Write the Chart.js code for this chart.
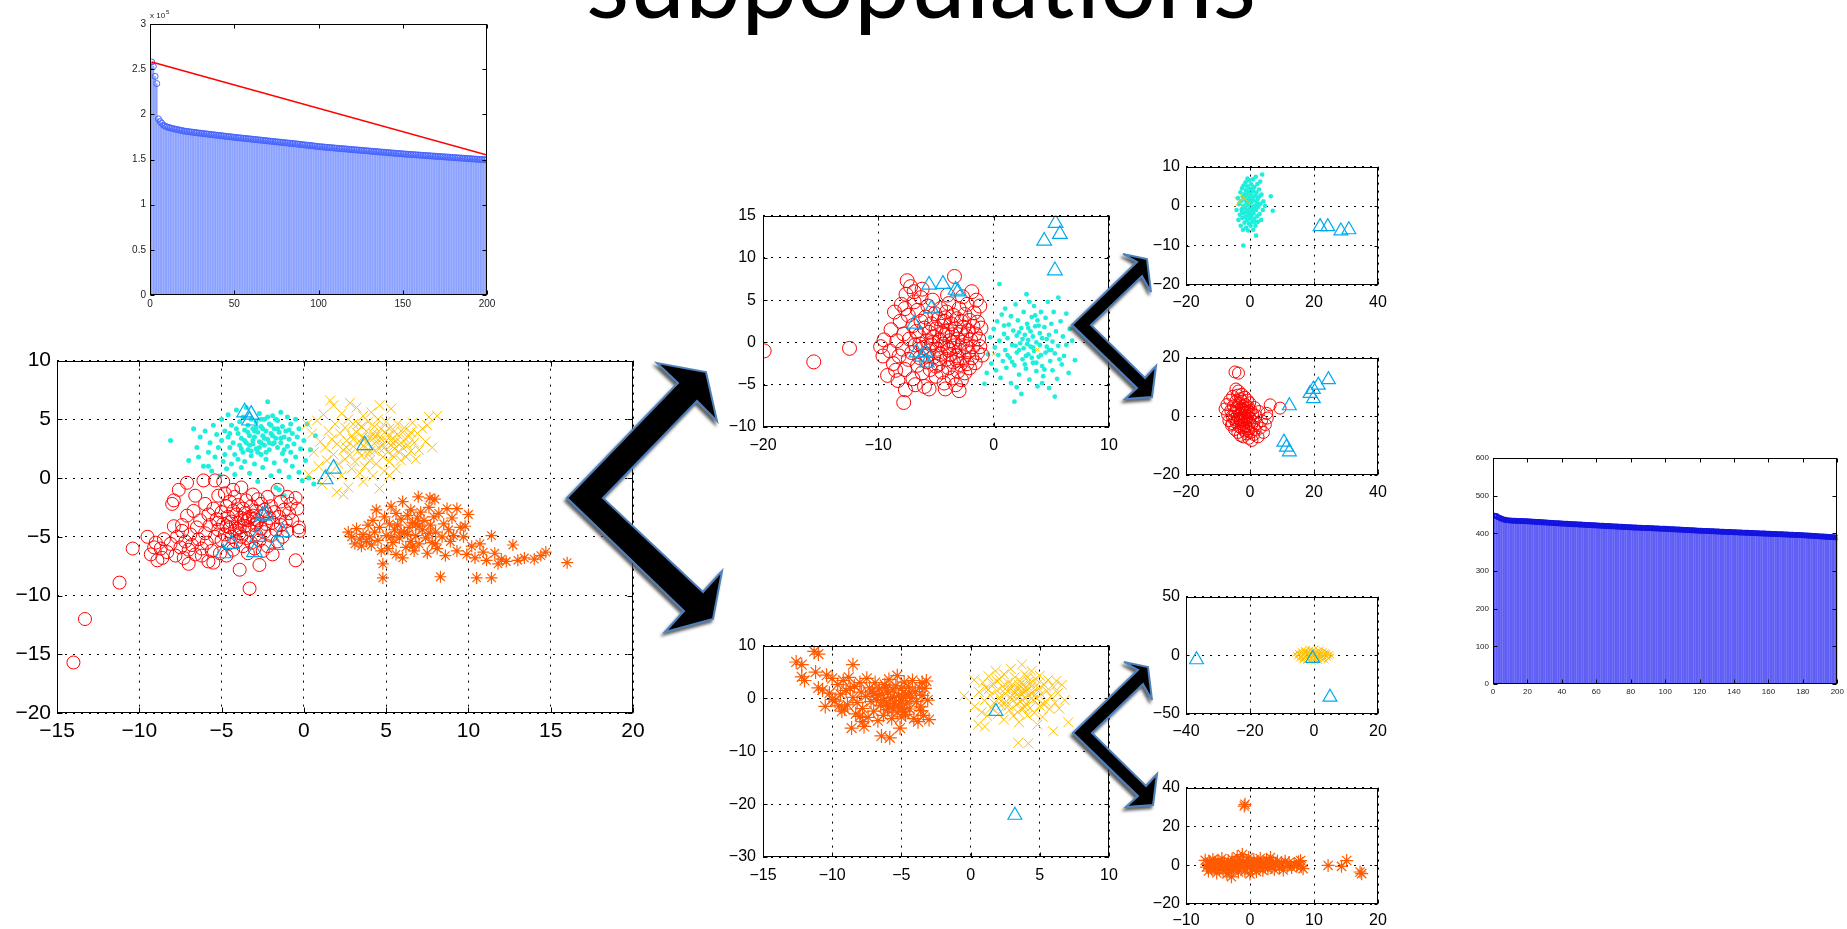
<!DOCTYPE html>
<html>
<head>
<meta charset="utf-8">
<script src="https://cdn.jsdelivr.net/npm/chart.js@4.4.1/dist/chart.umd.min.js"></script>
<style>
  body { margin: 0; width: 1847px; height: 929px; background: #fff; overflow: hidden; position: relative; }
  canvas { position: absolute; }
  #title { position: absolute; left: 0; top: 0; font-family: Lato, "Open Sans", sans-serif; font-size: 98px; line-height: 1; white-space: nowrap; color: #000; z-index: 5; }
  #title i { display: inline-block; width: 0; height: 0; }
  #arrows { position: absolute; left: 0; top: 0; z-index: 10; }
</style>
</head>
<body>
<div id="title"><span id="titleText">subpopulations</span><i id="baseMark"></i></div>

<svg id="arrows" width="1847" height="929" viewBox="0 0 1847 929">
  <defs>
    <filter id="shade" x="-20%" y="-20%" width="140%" height="140%">
      <feDropShadow dx="-2" dy="3" stdDeviation="1.4" flood-color="#444" flood-opacity="0.85"/>
    </filter>
  </defs>
  <g fill="#000" stroke="#4f81bd" stroke-width="2" stroke-linejoin="miter" filter="url(#shade)">
    <polygon points="567,498 678,383 657,363 706,372 717,421 697,401 603,498 703,592 722,571 713,619 665,632 684,611"/>
    <polygon points="1072,325 1137,262 1123,254 1147,259 1151,292 1142,276 1091,325 1145,378 1156,366 1152,397 1125,399 1137,388"/>
    <polygon transform="translate(1,408)" points="1072,325 1137,262 1123,254 1147,259 1151,292 1142,276 1091,325 1145,378 1156,366 1152,397 1125,399 1137,388"/>
  </g>
</svg>

<script>
// ---------- colours ----------
const CYAN = '#1eeedc';
const YELLOW = '#ffbf00';
const RED = '#ff0000';
const ORANGE = '#ff5a00';
const TRI = '#00aaee';

// ---------- top-left stem plot (values in units of 10^5) ----------
const tlStem = [
  2.58,2.53,2.42,2.34,1.95,1.92,1.90,1.88,1.87,1.86,
  1.855,1.850,1.845,1.840,1.836,1.832,1.828,1.824,1.820,1.816,
  1.813,1.810,1.808,1.805,1.803,1.800,1.798,1.796,1.793,1.791,
  1.789,1.786,1.784,1.782,1.780,1.777,1.775,1.773,1.770,1.768,
  1.766,1.764,1.762,1.759,1.757,1.755,1.753,1.751,1.748,1.746,
  1.744,1.742,1.740,1.738,1.736,1.734,1.732,1.730,1.728,1.726,
  1.724,1.722,1.720,1.718,1.716,1.714,1.712,1.710,1.708,1.706,
  1.704,1.702,1.700,1.698,1.696,1.694,1.692,1.690,1.688,1.686,
  1.684,1.682,1.680,1.678,1.676,1.674,1.672,1.670,1.668,1.665,
  1.663,1.661,1.659,1.657,1.655,1.653,1.650,1.648,1.646,1.643,
  1.641,1.640,1.638,1.636,1.635,1.633,1.631,1.630,1.628,1.626,
  1.625,1.623,1.621,1.620,1.618,1.617,1.615,1.613,1.612,1.610,
  1.608,1.607,1.605,1.604,1.602,1.600,1.599,1.597,1.596,1.594,
  1.592,1.591,1.589,1.588,1.586,1.584,1.583,1.581,1.580,1.578,
  1.576,1.575,1.573,1.572,1.570,1.568,1.567,1.565,1.564,1.562,
  1.561,1.559,1.558,1.557,1.555,1.554,1.553,1.551,1.550,1.549,
  1.547,1.546,1.545,1.543,1.542,1.541,1.539,1.538,1.537,1.535,
  1.534,1.533,1.531,1.530,1.529,1.527,1.526,1.525,1.523,1.522,
  1.521,1.519,1.518,1.517,1.515,1.514,1.513,1.511,1.510,1.509,
  1.507,1.506,1.505,1.503,1.502,1.501,1.499,1.498,1.497,1.495
];
const tlRedLine = [[1, 2.58], [200, 1.55]];

// ---------- right stem plot ----------
const rsStem = [
  447,446,443,441,439,437,436,435,434.5,434,
  433.8,433.6,433.4,433.2,433,432.8,432.6,432.4,432.2,432,
  431.7,431.4,431.1,430.8,430.5,430.2,429.9,429.6,429.3,429,
  428.7,428.4,428.1,427.8,427.5,427.2,426.9,426.6,426.3,426,
  425.8,425.5,425.3,425,424.8,424.5,424.3,424,423.8,423.5,
  423.3,423,422.8,422.5,422.3,422,421.8,421.5,421.3,421,
  420.8,420.5,420.3,420,419.8,419.5,419.3,419,418.8,418.5,
  418.3,418,417.8,417.5,417.3,417,416.8,416.5,416.3,416,
  415.8,415.6,415.4,415.2,415,414.8,414.6,414.4,414.2,414,
  413.8,413.6,413.4,413.2,413,412.8,412.6,412.4,412.2,412,
  411.8,411.5,411.3,411,410.8,410.5,410.3,410,409.8,409.5,
  409.3,409,408.8,408.5,408.3,408,407.8,407.5,407.3,407,
  406.8,406.6,406.4,406.2,406,405.8,405.6,405.4,405.2,405,
  404.8,404.6,404.4,404.2,404,403.8,403.6,403.4,403.2,403,
  402.8,402.6,402.4,402.2,402,401.8,401.6,401.4,401.2,401,
  400.8,400.6,400.4,400.2,400,399.8,399.6,399.4,399.2,399,
  398.8,398.6,398.4,398.2,398,397.8,397.6,397.4,397.2,397,
  396.8,396.6,396.4,396.2,396,395.8,395.6,395.4,395.2,395,
  394.7,394.4,394.1,393.8,393.5,393.2,392.9,392.6,392.3,392,
  391.7,391.4,391.1,390.8,390.5,390.2,389.9,389.6,389.3,389
];

// ---------- main scatter ----------
const mainCyan = [[-8.1,3.2],[-7.0,1.5],[-6.7,4.2],[-6.5,2.6],[-6.3,3.5],[-6.1,1.0],[-6.0,4.0],[-5.8,2.2],[-5.7,3.0],[-5.6,0.6],[-5.5,4.5],[-5.4,1.8],[-5.3,3.7],[-5.2,2.6],[-5.1,0.2],[-5.0,5.0],[-5.0,3.2],[-4.9,1.4],[-4.8,4.0],[-4.8,2.0],[-4.7,0.8],[-4.6,3.5],[-4.6,5.4],[-4.5,2.6],[-4.4,1.2],[-4.4,4.5],[-4.3,3.0],[-4.2,0.3],[-4.2,2.0],[-4.1,5.8],[-4.0,3.8],[-4.0,1.6],[-3.9,2.8],[-3.9,4.8],[-3.8,0.9],[-3.8,3.4],[-3.7,2.2],[-3.7,5.2],[-3.6,4.1],[-3.6,1.4],[-3.5,3.0],[-3.5,6.0],[-3.4,2.4],[-3.4,4.5],[-3.3,0.4],[-3.3,3.6],[-3.2,1.9],[-3.2,5.0],[-3.1,2.9],[-3.1,4.2],[-3.0,3.5],[-3.0,1.2],[-2.9,2.5],[-2.9,4.8],[-2.8,3.9],[-2.8,-0.3],[-2.7,3.1],[-2.7,5.5],[-2.6,2.0],[-2.6,4.4],[-2.5,3.6],[-2.5,0.9],[-2.4,2.8],[-2.4,5.0],[-2.3,4.0],[-2.3,1.6],[-2.2,3.3],[-2.2,6.5],[-2.1,2.4],[-2.1,4.6],[-2.0,3.8],[-2.0,0.2],[-1.9,2.9],[-1.9,5.3],[-1.8,4.2],[-1.8,1.3],[-1.7,3.4],[-1.7,-0.8],[-1.6,2.6],[-1.6,4.9],[-1.5,3.9],[-1.5,0.6],[-1.4,3.0],[-1.4,5.6],[-1.3,2.1],[-1.3,4.4],[-1.2,3.5],[-1.2,-1.5],[-1.1,1.5],[-1.1,4.0],[-1.0,2.7],[-1.0,5.2],[-0.9,3.3],[-0.9,0.1],[-0.8,4.6],[-0.8,2.2],[-0.7,3.8],[-0.7,1.0],[-0.6,2.9],[-0.5,5.0],[-0.5,1.8],[-0.4,3.5],[-0.3,0.5],[-0.3,4.2],[-0.2,2.5],[-0.1,-0.2],[0.0,3.2],[0.1,1.5],[0.2,4.6],[0.3,0.0],[0.4,2.4],[0.6,-0.5],[0.7,3.6],[-2.6,3.0],[-3.0,4.0],[-2.0,4.5],[-2.4,3.4],[-1.8,3.0],[-3.3,2.8],[-2.8,2.2],[-2.2,5.2],[-1.6,4.2],[-3.6,3.2],[-4.5,3.8],[-5.8,1.0],[-6.4,1.8],[-1.5,-1.0],[-2.5,4.2],[-3.1,3.2],[-1.9,3.6],[-2.7,2.6],[-3.4,3.9],[-2.1,3.0],[-1.4,3.4],[-2.9,4.3],[-3.8,2.5],[-1.2,2.4],[-2.3,2.2],[-4.1,4.2],[-0.9,4.1],[-2.6,5.0],[-1.7,5.0],[-3.2,2.3]];

const mainYellow = [[0.2,4.6],[0.3,0.3],[0.5,3.8],[0.6,2.2],[0.8,4.9],[0.9,1.0],[1.0,3.1],[1.1,-0.5],[1.2,5.4],[1.3,2.6],[1.4,1.5],[1.5,4.0],[1.6,0.4],[1.7,3.3],[1.8,6.2],[1.8,2.0],[1.9,4.6],[2.0,-1.2],[2.0,2.9],[2.1,1.2],[2.2,3.8],[2.3,5.5],[2.3,0.2],[2.4,2.4],[2.5,4.3],[2.5,1.6],[2.6,3.2],[2.7,-0.8],[2.7,5.0],[2.8,2.0],[2.9,3.6],[2.9,0.8],[3.0,4.6],[3.0,2.7],[3.1,1.4],[3.2,3.9],[3.2,6.0],[3.3,2.3],[3.4,3.1],[3.4,0.4],[3.5,4.4],[3.5,1.9],[3.6,3.5],[3.6,5.3],[3.7,2.6],[3.7,1.0],[3.8,4.0],[3.8,3.0],[3.9,2.0],[3.9,4.8],[4.0,3.4],[4.0,1.5],[4.1,2.7],[4.1,5.6],[4.2,3.8],[4.2,0.2],[4.3,2.3],[4.3,4.4],[4.4,3.1],[4.4,1.2],[4.5,3.7],[4.5,5.0],[4.6,2.5],[4.6,-0.9],[4.7,3.3],[4.7,4.2],[4.8,1.8],[4.8,2.9],[4.9,3.9],[4.9,0.6],[5.0,3.2],[5.0,4.8],[5.1,2.2],[5.1,3.6],[5.2,1.4],[5.2,4.2],[5.3,2.8],[5.3,5.9],[5.4,3.4],[5.4,1.9],[5.5,4.0],[5.5,2.5],[5.6,3.1],[5.6,0.8],[5.7,3.7],[5.7,4.6],[5.8,2.2],[5.9,3.0],[5.9,1.5],[6.0,3.9],[6.0,2.6],[6.1,4.3],[6.2,3.3],[6.2,1.8],[6.3,2.8],[6.4,3.6],[6.5,2.3],[6.6,4.7],[6.7,3.0],[6.8,1.6],[6.9,3.8],[7.0,2.4],[7.2,4.2],[7.4,3.1],[7.6,5.2],[7.8,2.6],[8.1,5.3],[7.5,4.5],[3.6,-0.3],[5.2,0.2],[2.4,-1.4],[1.6,6.6],[2.8,6.4],[4.6,6.2],[3.0,3.3],[3.3,4.6],[4.3,3.5],[4.9,2.6],[3.7,3.3],[5.4,3.0],[4.0,2.3],[2.6,2.6],[6.5,3.9]];

const mainRed = [[-14.0,-15.7],[-13.3,-12.0],[-11.2,-8.9],[-10.4,-6.0],[-9.5,-5.0],[-9.3,-6.5],[-9.0,-5.5],[-8.9,-7.0],[-8.7,-6.0],[-8.5,-5.2],[-8.3,-6.3],[-8.1,-5.6],[-8.0,-2.2],[-7.9,-1.9],[-7.9,-4.1],[-7.8,-6.6],[-7.7,-5.0],[-7.6,-1.0],[-7.5,-5.9],[-7.4,-4.5],[-7.3,-6.8],[-7.2,-5.4],[-7.1,-3.2],[-7.1,-0.4],[-7.0,-6.1],[-7.0,-7.3],[-6.9,-4.8],[-6.8,-5.7],[-6.7,-2.8],[-6.6,-6.5],[-6.5,-4.2],[-6.4,-5.2],[-6.3,-3.6],[-6.2,-6.0],[-6.1,-0.2],[-6.0,-4.7],[-6.0,-2.2],[-5.9,-5.5],[-5.8,-3.1],[-5.8,-7.1],[-5.7,-4.0],[-5.6,-6.2],[-5.5,-2.6],[-5.4,-0.2],[-5.4,-5.0],[-5.3,-3.5],[-5.2,-4.4],[-5.2,-1.5],[-5.1,-6.4],[-5.0,-2.9],[-5.0,-5.3],[-4.9,-3.9],[-4.8,-1.3],[-4.8,-4.8],[-4.7,-2.4],[-4.7,-6.6],[-4.6,-3.3],[-4.6,-5.6],[-4.5,-4.2],[-4.5,-2.0],[-4.4,-3.7],[-4.4,-5.0],[-4.3,-2.8],[-4.3,-6.1],[-4.2,-4.5],[-4.2,-1.6],[-4.1,-3.1],[-4.1,-5.4],[-4.0,-3.8],[-4.0,-2.3],[-3.9,-7.8],[-3.9,-4.7],[-3.8,-3.4],[-3.8,-0.8],[-3.7,-5.8],[-3.7,-2.6],[-3.6,-4.1],[-3.6,-3.0],[-3.5,-5.1],[-3.5,-1.9],[-3.4,-3.6],[-3.4,-6.4],[-3.3,-9.4],[-3.3,-4.4],[-3.2,-2.4],[-3.2,-5.5],[-3.1,-3.2],[-3.1,-1.4],[-3.0,-4.0],[-3.0,-6.0],[-2.9,-2.8],[-2.9,-4.8],[-2.8,-3.6],[-2.8,-1.8],[-2.7,-5.3],[-2.7,-7.4],[-2.6,-4.3],[-2.6,-2.2],[-2.5,-3.2],[-2.5,-6.2],[-2.4,-4.6],[-2.4,-2.7],[-2.3,-3.9],[-2.2,-5.8],[-2.2,-1.6],[-2.1,-3.4],[-2.0,-4.9],[-2.0,-2.4],[-1.9,-6.5],[-1.9,-3.8],[-1.8,-2.9],[-1.7,-4.4],[-1.6,-1.0],[-1.6,-5.4],[-1.5,-3.3],[-1.4,-2.0],[-1.4,-4.0],[-1.3,-5.0],[-1.2,-2.7],[-1.1,-3.7],[-1.0,-1.6],[-1.0,-4.5],[-0.9,-3.0],[-0.8,-2.2],[-0.7,-3.6],[-0.5,-7.0],[-0.5,-1.7],[-0.3,-4.2],[-0.3,-4.5],[-0.4,-2.6],[-6.6,-1.5],[-7.4,-4.0],[-5.5,-7.2],[-6.2,-6.6],[-8.6,-6.8],[-9.1,-5.9],[-4.9,-0.3],[-4.3,-1.0],[-3.9,-4.2],[-3.3,-3.3],[-4.7,-4.1],[-3.6,-3.5],[-2.9,-3.9],[-4.1,-4.3],[-5.2,-3.8],[-3.0,-3.5],[-3.8,-5.0],[-2.3,-3.0]];

const mainOrange = [[2.7,-4.6],[2.9,-5.0],[3.1,-5.6],[3.2,-4.3],[3.4,-5.2],[3.5,-5.8],[3.6,-4.8],[3.8,-5.4],[3.9,-4.0],[4.0,-5.0],[4.1,-5.7],[4.2,-3.6],[4.3,-4.6],[4.4,-2.7],[4.5,-5.3],[4.6,-4.2],[4.7,-6.2],[4.8,-7.3],[4.8,-8.5],[4.9,-3.3],[5.0,-4.9],[5.1,-6.0],[5.2,-3.9],[5.3,-2.4],[5.4,-5.5],[5.5,-4.4],[5.6,-3.0],[5.6,-6.5],[5.7,-4.0],[5.8,-5.1],[5.9,-3.5],[6.0,-2.0],[6.0,-6.8],[6.1,-4.6],[6.2,-5.9],[6.3,-3.2],[6.4,-4.2],[6.5,-5.4],[6.5,-2.7],[6.6,-3.8],[6.7,-6.2],[6.8,-4.9],[6.9,-3.4],[6.95,-1.6],[7.0,-5.6],[7.1,-2.9],[7.2,-4.4],[7.3,-3.6],[7.4,-5.1],[7.5,-6.4],[7.6,-2.5],[7.66,-1.7],[7.7,-4.0],[7.8,-5.5],[7.9,-3.3],[7.96,-1.8],[8.0,-4.6],[8.1,-6.0],[8.2,-3.0],[8.3,-8.4],[8.4,-5.0],[8.5,-3.9],[8.6,-6.6],[8.7,-2.6],[8.8,-4.4],[8.9,-5.4],[9.0,-3.4],[9.1,-4.9],[9.3,-2.6],[9.3,-6.2],[9.5,-4.2],[9.7,-5.0],[9.8,-4.1],[9.9,-6.5],[10.0,-3.1],[10.2,-5.8],[10.4,-6.8],[10.5,-8.5],[10.7,-5.6],[10.9,-6.3],[11.1,-7.0],[11.4,-4.9],[11.4,-8.5],[11.6,-6.4],[11.8,-7.3],[12.0,-6.9],[12.3,-7.1],[12.7,-5.7],[13.0,-7.0],[13.4,-6.8],[14.0,-6.9],[14.4,-6.6],[14.7,-6.3],[16.0,-7.2],[6.3,-4.8],[7.0,-4.1],[5.9,-4.6],[6.8,-3.9],[7.6,-4.7],[5.3,-5.0],[8.0,-5.6],[6.6,-5.8]];

const mainTri = [[-3.6,5.6],[-3.2,5.4],[-3.3,4.9],[1.3,-0.1],[1.8,0.8],[3.7,2.8],[-2.3,-3.1],[-2.5,-3.2],[-2.8,-5.0],[-3.0,-6.3],[-1.7,-5.7],[-1.3,-4.6],[-4.9,-6.4],[-4.4,-5.6]];

// ---------- middle top scatter ----------
const mtRed = [[-19.9,-1.0],[-15.6,-2.3],[-12.5,-0.7],[-9.8,-0.5],[-9.6,-1.6],[-9.5,0.3],[-9.2,-3.9],[-9.0,-1.0],[-8.9,1.5],[-8.7,-2.5],[-8.6,3.6],[-8.4,0.2],[-8.3,-4.5],[-8.2,-1.6],[-8.1,2.5],[-8.0,4.5],[-7.9,-0.8],[-7.8,-7.1],[-7.8,1.0],[-7.7,-3.2],[-7.65,-5.6],[-7.6,5.7],[-7.5,7.3],[-7.4,-2.0],[-7.4,3.2],[-7.3,0.4],[-7.2,6.6],[-7.1,-1.2],[-7.0,-4.3],[-7.0,2.0],[-6.9,4.8],[-6.8,-0.3],[-6.7,1.3],[-6.6,-2.7],[-6.6,3.8],[-6.5,0.8],[-6.4,-1.8],[-6.3,5.3],[-6.3,2.5],[-6.2,-3.6],[-6.1,-0.6],[-6.0,1.7],[-6.0,-5.2],[-5.9,3.0],[-5.8,-2.3],[-5.8,0.2],[-5.7,4.3],[-5.6,-1.0],[-5.6,1.2],[-5.5,-3.2],[-5.4,2.2],[-5.4,-0.3],[-5.3,5.0],[-5.2,-1.7],[-5.2,0.7],[-5.1,3.4],[-5.0,-4.0],[-5.0,1.6],[-4.9,-0.8],[-4.8,2.8],[-4.8,-2.6],[-4.7,0.3],[-4.6,4.0],[-4.6,-1.4],[-4.5,1.9],[-4.5,-3.5],[-4.4,-0.2],[-4.3,2.5],[-4.3,-4.8],[-4.2,0.9],[-4.1,-2.0],[-4.1,3.6],[-4.0,-0.6],[-4.0,1.4],[-3.9,-3.0],[-3.9,4.6],[-3.8,0.2],[-3.8,-1.4],[-3.7,2.2],[-3.6,-4.2],[-3.6,0.9],[-3.5,-2.3],[-3.5,3.2],[-3.4,7.8],[-3.4,-0.4],[-3.3,1.6],[-3.3,-5.0],[-3.2,-1.6],[-3.2,2.8],[-3.1,0.4],[-3.1,-3.4],[-3.0,4.0],[-3.0,-0.9],[-2.9,1.2],[-2.9,-2.6],[-2.8,2.5],[-2.8,-4.4],[-2.7,0.0],[-2.7,5.4],[-2.6,-1.8],[-2.6,1.8],[-2.5,-3.6],[-2.5,3.3],[-2.4,-0.5],[-2.4,0.8],[-2.3,-2.5],[-2.3,4.5],[-2.2,1.4],[-2.2,-1.1],[-2.1,2.6],[-2.1,-3.0],[-2.0,0.3],[-1.9,-1.8],[-1.9,6.0],[-1.8,1.9],[-1.8,-0.5],[-1.7,3.5],[-1.6,-2.4],[-1.6,1.0],[-1.5,5.0],[-1.4,-1.2],[-1.4,2.4],[-1.3,0.4],[-1.2,-0.5],[-1.2,4.3],[-1.1,1.7],[-1.0,-1.5],[-5.6,-5.5],[-6.8,-5.0],[-4.2,-5.5],[-3.0,-5.7],[-6.9,6.0],[-7.7,4.0],[-8.5,-3.3],[-6.2,6.3],[-4.0,5.6],[-5.0,-2.8],[-4.4,1.1],[-3.9,-0.9],[-5.3,0.0],[-4.7,-1.9],[-3.5,0.0],[-4.2,2.9],[-5.8,-1.6],[-6.4,-0.2],[-3.2,-2.1]];

const mtCyan = [[0.5,6.9],[-0.8,-4.9],[-0.6,-3.6],[-0.5,-1.4],[-0.3,0.6],[-0.2,-2.5],[0.0,1.6],[0.1,-0.6],[0.2,-3.3],[0.3,2.5],[0.4,-1.5],[0.5,0.2],[0.6,-4.2],[0.7,3.3],[0.8,-2.2],[0.9,1.0],[1.0,-0.9],[1.0,4.0],[1.1,-3.0],[1.2,0.5],[1.3,2.1],[1.4,-1.8],[1.5,-4.8],[1.5,3.1],[1.6,-0.3],[1.7,1.4],[1.8,-2.7],[1.8,-7.0],[1.9,4.5],[2.0,0.8],[2.0,-1.2],[2.1,2.6],[2.2,-3.8],[2.3,-0.1],[2.4,-6.1],[2.4,1.7],[2.5,-2.0],[2.6,3.6],[2.6,-0.7],[2.7,0.9],[2.8,-3.1],[2.85,5.7],[2.9,2.2],[3.0,-1.4],[3.0,0.3],[3.1,-4.4],[3.2,1.3],[3.2,-0.5],[3.3,3.0],[3.4,-2.4],[3.4,0.7],[3.5,-1.0],[3.5,4.3],[3.6,1.9],[3.7,-3.4],[3.7,0.0],[3.8,-5.2],[3.8,2.6],[3.9,-1.7],[4.0,1.1],[4.0,-0.3],[4.1,3.6],[4.2,-2.8],[4.2,0.5],[4.3,-4.0],[4.4,1.8],[4.5,-1.2],[4.5,2.9],[4.6,-0.5],[4.7,4.8],[4.8,-5.4],[4.8,0.9],[4.9,-2.2],[5.0,2.2],[5.1,-3.3],[5.1,0.1],[5.2,3.6],[5.3,-6.4],[5.3,-1.3],[5.4,1.3],[5.5,-4.3],[5.6,5.3],[5.6,-0.4],[5.8,2.5],[5.9,-2.6],[6.0,0.7],[6.1,-1.6],[6.3,-0.3],[6.3,3.4],[6.5,-3.6],[6.6,1.6],[7.05,-2.1],[2.9,-0.2],[3.3,-1.8],[2.2,1.2],[3.9,2.0],[1.6,-2.3],[4.4,-3.2],[2.7,-2.6],[3.6,3.2],[1.2,-1.5],[4.8,-0.9],[2.0,-5.3],[5.7,-2.0],[0.9,2.0],[4.2,-4.8],[3.1,4.8],[6.8,0.2],[3.4,-0.6],[2.5,0.4],[4.1,-1.5],[3.0,1.7],[2.2,-0.9],[4.6,0.4],[3.7,-2.4],[1.9,-0.4],[5.0,-0.9],[2.8,-1.6]];

const mtYellow = [[0.05,-1.35],[3.8,-0.85]];

const mtTri = [[5.37,14.1],[5.74,12.8],[4.38,12.0],[5.31,8.5],[-5.6,6.8],[-4.4,6.9],[-3.3,6.2],[-3.1,6.0],[-5.4,4.0],[-6.9,2.2],[-6.7,-1.2],[-5.9,-1.2],[-6.2,-1.7],[-5.8,-2.4]];

// ---------- middle bottom scatter ----------
const mbOrange = [[-11.3,8.9],[-11.0,8.4],[-12.6,6.9],[-12.2,6.4],[-12.2,4.1],[-12.0,3.4],[-11.2,5.0],[-11.0,2.0],[-10.7,1.6],[-10.4,4.4],[-10.5,-1.5],[-10.2,1.0],[-10.0,3.8],[-9.8,-0.5],[-9.6,2.6],[-9.4,0.8],[-9.3,-2.4],[-9.2,3.4],[-9.0,1.5],[-8.9,-1.2],[-8.8,4.0],[-8.6,-5.6],[-8.5,6.4],[-8.5,0.2],[-8.4,2.3],[-8.3,-2.9],[-8.2,-0.8],[-8.0,3.0],[-7.9,1.2],[-7.8,-1.9],[-7.7,-5.3],[-7.6,0.4],[-7.5,3.8],[-7.4,-3.6],[-7.3,2.0],[-7.2,-0.6],[-7.1,1.4],[-7.0,-2.4],[-6.9,3.0],[-6.8,-0.2],[-6.7,-4.2],[-6.6,1.8],[-6.5,-1.3],[-6.44,-7.1],[-6.4,0.7],[-6.3,-3.2],[-6.2,2.6],[-6.1,-0.9],[-6.0,1.2],[-6.0,-2.1],[-5.9,3.6],[-5.8,0.1],[-5.84,-7.45],[-5.7,-3.8],[-5.6,1.6],[-5.5,-1.0],[-5.4,2.4],[-5.3,-2.6],[-5.3,4.3],[-5.2,0.5],[-5.1,-5.6],[-5.0,-0.4],[-5.0,1.9],[-4.9,-1.8],[-4.8,3.1],[-4.7,-3.0],[-4.7,0.8],[-4.6,-0.9],[-4.5,2.2],[-4.4,-2.0],[-4.3,0.0],[-4.2,3.4],[-4.1,-3.8],[-4.0,1.3],[-3.9,-0.6],[-3.8,-4.4],[-3.7,2.0],[-3.6,-1.6],[-3.5,0.6],[-3.4,-3.2],[-3.3,1.9],[-3.2,3.3],[-3.1,-0.3],[-3.0,-4.0],[-6.3,-0.4],[-5.5,0.2],[-4.9,0.3],[-5.9,-1.5],[-5.2,-1.2],[-6.7,0.6],[-4.4,1.0],[-5.6,-2.0],[-6.1,2.1],[-4.8,-2.5],[-7.0,0.9],[-5.0,-3.5],[-3.6,-2.3],[-8.0,-3.4],[-9.1,-2.0],[-7.8,-4.4],[-10.0,-0.2],[-9.5,-1.4],[-8.7,1.9],[-3.5,3.0]];

const mbYellow = [[-0.46,0.5],[0.26,3.5],[0.3,-1.5],[0.55,-4.95],[0.6,1.2],[0.8,-2.6],[0.9,3.0],[1.0,-0.4],[1.03,-5.3],[1.1,2.0],[1.2,-3.3],[1.3,4.2],[1.4,0.6],[1.5,-1.8],[1.6,2.8],[1.7,-0.9],[1.8,5.2],[1.9,1.5],[2.0,-2.9],[2.1,3.6],[2.1,0.2],[2.2,-1.3],[2.3,2.3],[2.4,-4.0],[2.4,4.6],[2.5,0.9],[2.6,-0.6],[2.7,3.0],[2.8,-2.2],[2.8,1.6],[2.9,5.6],[3.0,-0.1],[3.0,2.6],[3.1,-3.3],[3.2,1.0],[3.2,4.0],[3.3,-1.2],[3.4,2.0],[3.44,-8.4],[3.5,0.4],[3.5,-4.5],[3.6,3.3],[3.6,-0.6],[3.7,1.5],[3.7,6.4],[3.8,-2.0],[3.8,2.6],[3.9,0.1],[3.9,4.6],[4.0,-1.0],[4.0,1.9],[4.1,-3.2],[4.17,-8.5],[4.2,3.2],[4.2,0.6],[4.3,-1.8],[4.4,2.3],[4.4,5.2],[4.5,-0.3],[4.5,1.2],[4.6,-2.7],[4.7,3.7],[4.8,0.0],[4.83,-4.95],[4.9,1.8],[5.0,-1.4],[5.0,4.3],[5.1,0.8],[5.2,-3.5],[5.3,2.6],[5.4,-0.6],[5.5,1.4],[5.6,3.5],[5.7,-2.0],[5.8,0.4],[5.97,-6.2],[6.0,2.2],[6.1,-0.8],[6.3,1.0],[6.4,-1.9],[6.6,2.6],[6.8,-0.3],[7.06,-4.5],[3.3,1.3],[3.7,0.9],[2.9,1.9],[4.0,1.4],[3.5,2.5],[2.5,1.8],[4.6,0.5],[3.0,0.6],[4.3,2.9],[2.2,-0.5],[3.9,-1.5],[4.8,2.6],[1.9,3.3],[5.3,-1.2],[2.7,-1.4],[6.2,3.3],[1.3,1.7],[3.4,-2.6],[4.1,4.0]];

const mbTri = [[3.2,-22.1],[1.83,-2.46]];

// ---------- right column scatters ----------
const raCyan = [[-4.2,-1.0],[-3.8,2.0],[-3.6,-3.5],[-3.4,0.5],[-3.2,-2.2],[-3.0,3.5],[-2.9,-5.0],[-2.8,1.2],[-2.6,-0.8],[-2.5,4.5],[-2.4,-3.0],[-2.3,2.4],[-2.2,-6.0],[-2.1,-10.0],[-2.1,0.0],[-2.0,5.2],[-1.9,-1.8],[-1.8,3.0],[-1.7,-4.2],[-1.6,1.6],[-1.5,-0.6],[-1.4,6.0],[-1.4,-2.8],[-1.3,4.0],[-1.2,-5.5],[-1.1,0.8],[-1.0,2.8],[-1.0,-1.5],[-0.9,-3.6],[-0.8,5.0],[-0.7,0.2],[-0.6,-6.2],[-0.6,3.5],[-0.5,-2.0],[-0.4,1.5],[-0.3,-4.5],[-0.3,6.5],[-0.2,-0.8],[-0.1,2.5],[0.0,-3.0],[0.0,4.4],[0.1,0.6],[0.2,-5.0],[0.2,-1.5],[0.3,3.2],[0.4,5.5],[0.5,-2.4],[0.5,1.0],[0.6,-4.0],[0.7,2.0],[0.8,-0.4],[0.9,6.8],[1.0,-6.0],[1.0,3.8],[1.1,-1.8],[1.2,1.4],[1.3,-3.2],[1.4,4.8],[1.5,0.0],[1.6,2.6],[1.7,-5.0],[1.8,7.4],[1.9,-1.0],[1.9,-7.5],[2.0,3.4],[2.1,0.8],[2.2,-2.6],[2.3,5.6],[2.4,1.8],[2.5,-4.0],[2.6,-0.2],[2.8,4.2],[2.9,2.4],[3.0,-2.0],[3.2,6.2],[3.3,0.6],[3.5,-3.5],[3.6,2.9],[3.8,8.0],[4.0,-1.0],[4.2,1.2],[4.7,0.0],[6.5,2.5],[7.1,-1.2],[-0.5,0.9],[0.6,-1.0],[-1.2,2.0],[1.2,-0.2],[-0.2,-2.6],[0.4,2.2],[-1.7,-0.5],[0.9,4.4],[-2.5,-1.5],[1.5,-4.0],[-0.8,7.0],[2.4,0.2]];
const raYellow = [[-3.3,1.0],[-1.56,1.85]];
const raTri = [[21.9,-5.2],[24.3,-5.2],[28.4,-6.3],[30.9,-6.0]];

const rbRed = [[-4.7,15.1],[-3.6,14.7],[-4.4,9.3],[6.3,3.9],[9.4,2.8],[5.4,-0.6],[-7.8,2.5],[-7.2,4.0],[-7.0,0.5],[-6.6,-1.5],[-6.3,5.5],[-6.0,2.0],[-5.8,-3.0],[-5.6,0.0],[-5.4,6.8],[-5.2,3.5],[-5.0,-1.0],[-4.8,-4.5],[-4.7,1.5],[-4.5,5.0],[-4.3,-2.2],[-4.2,3.0],[-4.0,0.2],[-3.9,7.2],[-3.8,-5.5],[-3.6,-0.8],[-3.5,2.2],[-3.4,-3.5],[-3.3,4.5],[-3.2,0.8],[-3.0,-6.5],[-3.0,6.0],[-2.9,-1.8],[-2.8,2.8],[-2.7,-4.0],[-2.6,1.0],[-2.5,-0.4],[-2.4,5.2],[-2.3,-2.8],[-2.2,3.5],[-2.1,-7.0],[-2.0,0.3],[-1.9,-1.4],[-1.8,2.0],[-1.7,-5.0],[-1.6,6.5],[-1.5,-0.2],[-1.4,4.0],[-1.3,-3.2],[-1.2,1.2],[-1.1,-6.0],[-1.0,2.8],[-0.9,-1.8],[-0.8,5.5],[-0.7,0.0],[-0.6,-4.2],[-0.5,3.2],[-0.4,-7.5],[-0.3,1.5],[-0.2,-2.5],[-0.1,4.6],[0.0,-0.6],[0.2,-5.5],[0.3,2.0],[0.5,-3.0],[0.6,-8.2],[0.8,0.8],[1.0,-1.8],[1.2,-6.2],[1.4,3.0],[1.6,-4.5],[1.9,0.2],[2.2,-2.6],[2.5,-7.0],[2.8,1.6],[3.2,-4.0],[3.6,-1.5],[4.2,-5.5],[4.8,-2.8],[5.2,1.0],[-1.5,1.5],[-2.5,2.5],[-3.0,-1.2],[-1.0,-0.8],[-2.0,-3.8],[-4.0,-1.5],[-0.5,-5.0],[-2.6,7.5],[-5.5,-2.5],[-3.6,8.6]];
const rbTri = [[12.3,3.6],[18.75,7.8],[19.8,9.2],[21.35,10.6],[24.5,12.5],[19.8,6.0],[10.6,-8.8],[11.4,-10.5],[12.3,-12.1]];

const rcYellow = [[-5.9,1.0],[-5.5,-1.5],[-5.2,2.5],[-5.0,0.0],[-4.8,-3.0],[-4.5,1.8],[-4.3,4.0],[-4.1,-1.0],[-3.9,3.0],[-3.7,-4.5],[-3.5,0.6],[-3.3,5.0],[-3.1,-2.2],[-2.9,2.0],[-2.7,-5.5],[-2.6,-0.5],[-2.4,4.2],[-2.2,1.2],[-2.0,-3.5],[-1.9,6.0],[-1.7,-1.2],[-1.5,2.8],[-1.3,-4.8],[-1.2,0.4],[-1.0,5.2],[-0.8,-2.5],[-0.7,3.5],[-0.5,-0.2],[-0.3,-6.0],[-0.2,1.8],[0.0,-3.5],[0.1,4.6],[0.3,0.8],[0.5,-1.8],[0.6,6.2],[0.8,-4.5],[1.0,2.5],[1.1,-0.8],[1.3,4.0],[1.5,-2.8],[1.6,1.2],[1.8,-5.2],[2.0,3.2],[2.1,-0.2],[2.3,5.5],[2.5,-1.5],[2.6,2.0],[2.8,-3.8],[3.0,0.6],[3.2,4.2],[3.3,-2.0],[3.5,1.5],[3.7,-4.8],[3.9,3.0],[4.1,-0.8],[4.3,2.2],[4.5,-2.5],[4.8,0.5],[5.0,-1.5],[5.3,1.5],[5.5,-0.5],[-4.0,-2.0],[-2.0,-1.8],[0.5,2.8],[2.0,1.0],[-1.5,0.0],[1.2,-3.0],[-3.0,3.6],[3.0,-0.8],[-0.8,1.0],[4.0,1.0],[-3.5,-3.2],[0.0,0.0],[1.5,-1.0],[-2.5,2.8]];
const rcTri = [[-36.7,-3.8],[-0.42,-2.7],[5.0,-35.7]];

const rdOrange = [[-0.78,31.4],[-0.9,30.5],[12.2,-0.13],[14.3,-0.6],[15.1,2.4],[17.45,-4.35],[17.2,-3.5],[7.9,2.4],[8.3,-1.8],[-7.0,2.5],[-6.8,-1.0],[-6.6,0.5],[-6.5,-3.0],[-6.3,1.8],[-6.0,-0.5],[-5.8,3.0],[-5.6,-2.2],[-5.4,0.8],[-5.2,-4.0],[-5.0,2.0],[-4.8,-1.2],[-4.6,0.2],[-4.4,3.5],[-4.2,-2.8],[-4.0,1.0],[-3.8,-0.6],[-3.6,-4.5],[-3.4,2.2],[-3.2,-1.8],[-3.0,0.4],[-2.9,-6.0],[-2.8,3.2],[-2.6,-2.5],[-2.4,1.2],[-2.2,-0.4],[-2.0,4.5],[-1.8,-3.5],[-1.7,0.8],[-1.5,2.5],[-1.3,-1.5],[-1.2,5.5],[-1.0,0.0],[-0.8,-3.0],[-0.6,2.0],[-0.4,-1.0],[-0.2,4.0],[0.0,-4.5],[0.2,1.0],[0.4,-2.0],[0.6,2.8],[0.8,-0.5],[1.0,-3.2],[1.2,1.8],[1.4,-1.2],[1.6,3.5],[1.8,0.2],[2.0,-2.6],[2.2,1.4],[2.4,-0.8],[2.6,2.6],[2.8,-1.8],[3.0,0.6],[3.2,4.0],[3.4,-1.0],[3.6,1.6],[3.8,-2.2],[4.0,0.4],[4.3,2.2],[4.6,-1.2],[4.9,1.0],[5.2,-2.5],[5.5,2.0],[5.8,-0.6],[6.1,1.4],[6.5,-1.2],[6.9,0.6],[7.3,-0.5],[7.6,1.8],[8.0,-0.8],[-5.5,1.5],[-3.0,-1.0],[-1.0,1.5],[1.0,0.5],[-2.0,-1.5],[0.0,1.8],[2.0,0.0],[-4.0,-0.8],[3.0,2.0],[-6.0,-2.0],[-3.6,0.5]];

// ---------- title ----------
const titleEl = document.getElementById('title');
const titleSpan = document.getElementById('titleText');
const fitSize = 98 * 670 / titleSpan.getBoundingClientRect().width;
titleEl.style.fontSize = fitSize + 'px';
const baseY = document.getElementById('baseMark').offsetTop;
titleEl.style.left = (921 - titleSpan.getBoundingClientRect().width / 2) + 'px';
titleEl.style.top = (18 - baseY) + 'px';

// ---------- chart helpers ----------
Chart.defaults.font.family = '"Liberation Sans", Arial, sans-serif';
Chart.defaults.color = '#000';

const minus = v => String(v).replace('-', '\u2212');

// frame box + inward MATLAB-style ticks
const frameBox = {
  id: 'frameBox',
  afterDraw(chart, args, opts) {
    const { ctx, chartArea: a, scales } = chart;
    const L = Math.round(a.left) + 0.5, R = Math.round(a.right) - 0.5;
    const T = Math.round(a.top) + 0.5, B = Math.round(a.bottom) - 0.5;
    const len = opts.tick || 4;
    ctx.save();
    ctx.strokeStyle = '#000';
    ctx.lineWidth = 1;
    ctx.beginPath();
    scales.x.ticks.forEach(t => {
      const px = Math.round(scales.x.getPixelForValue(t.value)) + 0.5;
      ctx.moveTo(px, B); ctx.lineTo(px, B - len);
      ctx.moveTo(px, T); ctx.lineTo(px, T + len);
    });
    scales.y.ticks.forEach(t => {
      const py = Math.round(scales.y.getPixelForValue(t.value)) + 0.5;
      ctx.moveTo(L, py); ctx.lineTo(L + len, py);
      ctx.moveTo(R, py); ctx.lineTo(R - len, py);
    });
    ctx.stroke();
    ctx.strokeRect(L, T, R - L, B - T);
    if (opts.exp) {
      ctx.fillStyle = '#222';
      ctx.font = '8px "Liberation Sans", Arial, sans-serif';
      ctx.fillText('x 10', a.left, a.top - 6);
      const w = ctx.measureText('x 10').width;
      ctx.font = '6px "Liberation Sans", Arial, sans-serif';
      ctx.fillText('5', a.left + w + 1, a.top - 10);
    }
    ctx.restore();
  }
};

function sc(pts, style, r, color, filled, bw) {
  return {
    type: 'scatter',
    data: pts.map(([x, y]) => ({ x, y })),
    showLine: false,
    pointStyle: style,
    pointRadius: r,
    pointBorderColor: color,
    pointBackgroundColor: filled ? color : 'rgba(0,0,0,0)',
    pointBorderWidth: filled ? 0 : (bw || 1),
    borderColor: color,
    backgroundColor: filled ? color : 'rgba(0,0,0,0)'
  };
}

// box = [left, top, right, bottom] of the plot area in page pixels
function plot(box, o) {
  const padT = o.padT || 14, padR = o.padR || 24;
  const c = document.createElement('canvas');
  c.width = box[2] - box[0] + o.yW + padR;
  c.height = box[3] - box[1] + padT + o.xH;
  c.style.left = (box[0] - o.yW) + 'px';
  c.style.top = (box[1] - padT) + 'px';
  document.body.appendChild(c);

  const axis = (range, step, isX) => ({
    type: 'linear',
    min: range[0], max: range[1],
    offset: false,
    ticks: {
      stepSize: step, autoSkip: false, maxRotation: 0, minRotation: 0,
      color: o.tc || '#000',
      font: { size: o.fs },
      padding: isX ? o.xp : o.yp,
      callback: v => minus(v)
    },
    grid: { display: !!o.grid, color: '#000', lineWidth: 1, drawTicks: false, offset: false },
    border: { display: false, dash: [2, 6] },
    afterFit: s => { if (isX) s.height = o.xH; else s.width = o.yW; }
  });

  return new Chart(c, {
    type: 'scatter',
    data: { datasets: o.datasets },
    options: {
      responsive: false,
      animation: false,
      devicePixelRatio: 1,
      events: [],
      layout: { padding: { top: padT, right: padR, left: 0, bottom: 0 } },
      plugins: {
        legend: { display: false },
        tooltip: { enabled: false },
        frameBox: { tick: o.tl, exp: o.exp }
      },
      scales: { x: axis(o.x, o.xs, true), y: axis(o.y, o.ys, false) }
    },
    plugins: [frameBox]
  });
}

// ---------- top-left stem plot ----------
plot([150, 24, 487, 295], {
  yW: 25, xH: 20, fs: 10, xp: 3, yp: 4, tl: 4, exp: true, tc: '#222',
  x: [0, 200], xs: 50, y: [0, 3], ys: 0.5,
  datasets: [
    { type: 'line', data: tlRedLine.map(([x, y]) => ({ x, y })), borderColor: RED, borderWidth: 1.5, pointRadius: 0, showLine: true },
    sc(tlStem.map((v, i) => [i + 1, v]), 'circle', 3, 'rgb(70,100,255)', false, 1),
    { type: 'bar', data: tlStem.map((v, i) => ({ x: i + 1, y: v })), backgroundColor: 'rgba(100,130,255,0.75)', barThickness: 1 }
  ]
});

// ---------- main scatter ----------
plot([57, 356, 633, 713], {
  yW: 57, xH: 35, fs: 21, xp: 6, yp: 6, tl: 5, grid: true,
  x: [-15, 20], xs: 5, y: [-20, 10], ys: 5,
  datasets: [
    sc(mainTri, 'triangle', 9, TRI, false, 1.2),
    sc(mainOrange, 'star', 6, ORANGE, false, 1.2),
    sc(mainRed, 'circle', 6.5, RED, false, 1),
    sc(mainYellow, 'crossRot', 7, YELLOW, false, 1),
    sc(mainCyan, 'circle', 2.5, CYAN, true)
  ]
});

// ---------- middle top ----------
plot([763, 213, 1109, 427], {
  yW: 45, xH: 30, fs: 16, xp: 9, yp: 7, tl: 4, grid: true,
  x: [-20, 10], xs: 10, y: [-10, 15], ys: 5,
  datasets: [
    sc(mtTri, 'triangle', 8.5, TRI, false, 1.2),
    sc(mtYellow, 'crossRot', 3, YELLOW, false, 1),
    sc(mtRed, 'circle', 7, RED, false, 1),
    sc(mtCyan, 'circle', 2.4, CYAN, true)
  ]
});

// ---------- middle bottom ----------
plot([763, 643, 1109, 857], {
  yW: 45, xH: 30, fs: 16, xp: 9, yp: 7, tl: 4, grid: true,
  x: [-15, 10], xs: 5, y: [-30, 10], ys: 10,
  datasets: [
    sc(mbTri, 'triangle', 8, TRI, false, 1.2),
    sc(mbOrange, 'star', 7, ORANGE, false, 1.2),
    sc(mbYellow, 'crossRot', 7, YELLOW, false, 1)
  ]
});

// ---------- right column ----------
plot([1186, 165, 1378, 285], {
  yW: 40, xH: 28, fs: 16, xp: 8, yp: 6, tl: 3, grid: true,
  x: [-20, 40], xs: 20, y: [-20, 10], ys: 10,
  datasets: [
    sc(raTri, 'triangle', 8, TRI, false, 1.2),
    sc(raYellow, 'crossRot', 7, YELLOW, false, 1),
    sc(raCyan, 'circle', 2.3, CYAN, true)
  ]
});

plot([1186, 356, 1378, 475], {
  yW: 40, xH: 28, fs: 16, xp: 8, yp: 6, tl: 3, grid: true,
  x: [-20, 40], xs: 20, y: [-20, 20], ys: 20,
  datasets: [
    sc(rbTri, 'triangle', 8, TRI, false, 1.2),
    sc(rbRed, 'circle', 6, RED, false, 1)
  ]
});

plot([1186, 595, 1378, 714], {
  yW: 40, xH: 28, fs: 16, xp: 8, yp: 6, tl: 3, grid: true,
  x: [-40, 20], xs: 20, y: [-50, 50], ys: 50,
  datasets: [
    sc(rcTri, 'triangle', 8, TRI, false, 1.2),
    sc(rcYellow, 'crossRot', 3.5, YELLOW, false, 1)
  ]
});

plot([1186, 786, 1378, 904], {
  yW: 40, xH: 25, fs: 16, xp: 7, yp: 6, tl: 3, grid: true,
  x: [-10, 20], xs: 10, y: [-20, 40], ys: 20,
  datasets: [
    sc(rdOrange, 'star', 6.5, ORANGE, false, 1.2)
  ]
});

// ---------- right stem plot ----------
plot([1493, 458, 1840, 684], {
  yW: 25, xH: 18, fs: 8, xp: 3, yp: 4, tl: 4, padR: 7, tc: '#222',
  x: [0, 200], xs: 20, y: [0, 600], ys: 100,
  datasets: [
    sc(rsStem.map((v, i) => [i + 1, v]), 'circle', 2.2, 'rgb(20,20,225)', false, 1.5),
    { type: 'bar', data: rsStem.map((v, i) => ({ x: i + 1, y: v })), backgroundColor: 'rgb(95,95,245)', barThickness: 1.3 }
  ]
});
</script>
</body>
</html>
